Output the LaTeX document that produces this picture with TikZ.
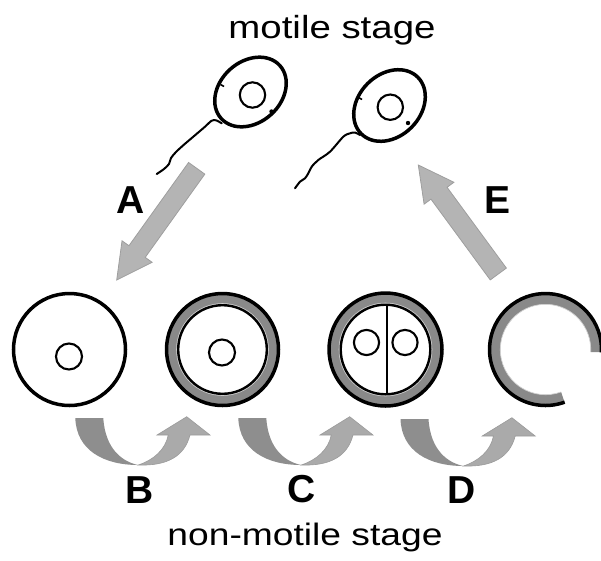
\documentclass[tikz,border=0pt]{standalone}
\usepackage{fontspec}
\setmainfont{Liberation Sans}
\usetikzlibrary{calc}

\definecolor{wallgray}{HTML}{898989}
\definecolor{wallrim}{HTML}{D0D0D0}
\definecolor{arrowfill}{HTML}{B4B4B4}
\definecolor{arrowedge}{HTML}{9E9E9E}
\definecolor{turndark}{HTML}{8E8E8E}
\definecolor{turnlight}{HTML}{AAAAAA}
\definecolor{turnedge}{HTML}{9A9A9A}

% straight block arrow from a tail coordinate to a tip coordinate
\newcommand{\stagearrow}[3]{%
  \coordinate (#3b) at ($(#2)!35pt!(#1)$);
  \filldraw[blockarrow]
    ($(#1)!10pt!90:(#2)$) -- ($(#3b)!10pt!90:(#2)$) -- ($(#3b)!18.5pt!90:(#2)$)
    -- (#2) -- ($(#3b)!18.5pt!-90:(#2)$) -- ($(#3b)!10pt!-90:(#2)$)
    -- ($(#1)!10pt!-90:(#2)$) -- cycle;}

\begin{document}
\begin{tikzpicture}[x=1pt,y=-1pt,
  cellline/.style={line width=3.5pt},
  nucline/.style={line width=2.1pt},
  flag/.style={line width=2pt, line join=round, line cap=round},
  blockarrow/.style={fill=arrowfill, draw=arrowedge, line width=0.8pt},
  stagetext/.style={anchor=base, xscale=1.2, inner sep=0pt},
  steplabel/.style={anchor=base, inner sep=0pt, font=\fontsize{39}{39}\selectfont\bfseries},
  turnarrow/.pic={
    % darker descending half
    \fill[turndark] (-63,-47) -- (-35,-47) .. controls (-33,-15) and (-15,-3) .. (0,0)
      .. controls (-35,0) and (-62,-15) .. (-63,-47) -- cycle;
    % lighter rising half with its head
    \filldraw[fill=turnlight, draw=turnedge, line width=0.6pt]
      (0,0) .. controls (15,-5) and (27,-15) .. (30,-30) -- (18.7,-30) -- (48.4,-48.3)
      -- (71.7,-30) -- (51.7,-30) .. controls (46,-8) and (28,1) .. (0,0) -- cycle;
  }]
\useasboundingbox (0,0) rectangle (601,560);

% ---------- motile cells ----------
\coordinate (m1) at (250.5,92);
\coordinate (m2) at (389.5,105.5);
\draw[cellline, rotate around={42:(m1)}] (m1) ellipse[x radius=39.5pt, y radius=30.5pt];
\draw[nucline] (252.5,95) circle[radius=12.7pt];
\draw[line width=1.6pt] (220.5,84.5) -- (224,86.5);
\fill (271.5,111.5) circle[radius=2.2pt];
\draw[flag] plot[smooth, tension=0.5] coordinates {(221.7,123.3) (216,120.3) (211.5,120.8)
  (205,126.7) (193.3,136.7) (183,145.5) (176,152) (171,158) (169,164) (164,169) (156.7,174)};

\draw[cellline, rotate around={45:(m2)}] (m2) ellipse[x radius=40pt, y radius=31pt];
\draw[nucline] (390.3,107.2) circle[radius=12.7pt];
\draw[line width=1.6pt] (358.5,97.5) -- (362,99.5);
\fill (408,123) circle[radius=2.2pt];
\draw[flag] plot[smooth, tension=0.5] coordinates {(360,135) (355,132.5) (350,133.3)
  (343.3,136.7) (330,151.7) (318.3,160) (311.7,166.7) (308.3,173.3) (305,178.3)
  (300,181.7) (295,188.3)};

% ---------- non-motile cells ----------
\coordinate (c1) at (69.5,349.5);
\coordinate (c2) at (222.5,349.5);
\coordinate (c3) at (385.5,349.5);
\coordinate (c4) at (545.5,349.5);

% plain cell
\draw[cellline] (c1) circle[radius=56pt];
\draw[nucline] (69,356.5) circle[radius=13pt];

% walled cell
\fill[wallgray] (c2) circle[radius=56pt];
\fill[wallrim] (c2) circle[radius=46.3pt];
\draw[line width=2.4pt, fill=white] (c2) circle[radius=44.3pt];
\draw[cellline] (c2) circle[radius=56pt];
\draw[nucline] (222,352.5) circle[radius=13pt];

% dividing cell
\fill[wallgray] (c3) circle[radius=56.5pt];
\fill[wallrim] (c3) circle[radius=46.8pt];
\draw[line width=2.4pt, fill=white] (c3) circle[radius=44.8pt];
\draw[cellline] (c3) circle[radius=56.5pt];
\draw[line width=2pt] (387,305.5) -- (387,393.5);
\draw[nucline] (366.5,342.5) circle[radius=12.6pt];
\draw[nucline] (405,342.5) circle[radius=12.6pt];

% opened wall
\draw[wallgray, line width=10.5pt] ($(c4)+(-3:50.5pt)$) arc[start angle=-3, end angle=290, radius=50.5pt];
\draw[wallrim, line width=0.7pt] ($(c4)+(-3:45.2pt)$) arc[start angle=-3, end angle=290, radius=45.2pt];
\draw[cellline] ($(c4)+(-3:56pt)$) arc[start angle=-3, end angle=290, radius=56pt];

% ---------- straight transition arrows ----------
\coordinate (aT) at (196.7,168.3);
\coordinate (aH) at (116.7,280);
\stagearrow{aT}{aH}{a}
\coordinate (eT) at (498.3,274);
\coordinate (eH) at (418.3,165);
\stagearrow{eT}{eH}{e}

% ---------- curved transition arrows ----------
\pic (turnB) at (138.3,465) {turnarrow};
\pic (turnC) at (301.3,465) {turnarrow};
\pic (turnD) at (463.5,466) {turnarrow};

% ---------- labels ----------
\node[stagetext, font=\fontsize{32}{32}\selectfont] (motile) at (332,38) {motile stage};
\node[stagetext, font=\fontsize{31}{31}\selectfont] (nonmotile) at (305,545) {non-motile stage};
\node[steplabel] (lA) at (131,213) {A};
\node[steplabel] (lB) at (140,503) {B};
\node[steplabel] (lC) at (301.5,502) {C};
\node[steplabel] (lD) at (461.5,503) {D};
\node[steplabel] (lE) at (497.5,213) {E};
\end{tikzpicture}
\end{document}
